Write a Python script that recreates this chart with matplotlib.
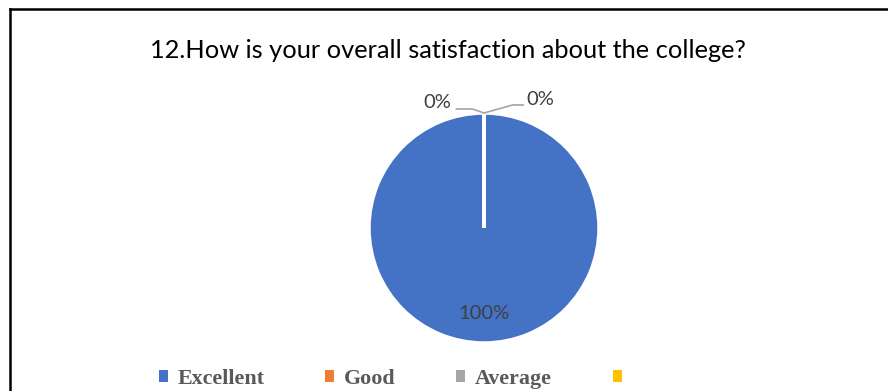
import matplotlib.pyplot as plt
from matplotlib.patches import Patch
from matplotlib.lines import Line2D

# survey answers
categories = ["Excellent", "Good", "Average", ""]
shares = [100, 0, 0, 0]
colors = ["#4472C4", "#ED7D31", "#A5A5A5", "#FFC000"]
title = "12.How is your overall satisfaction about the college?"

W, H = 888, 391
fig = plt.figure(figsize=(W / 100, H / 100), dpi=100)

# frame (left and top edges of the embedded chart box)
fig.add_artist(Line2D([9.5 / W, 9.5 / W], [0, 1 - 8.5 / H], color="black", lw=1.8,
                      transform=fig.transFigure))
fig.add_artist(Line2D([9.5 / W, 1], [1 - 8.5 / H, 1 - 8.5 / H], color="black", lw=1.8,
                      transform=fig.transFigure))

fig.text(448 / W, 1 - 50 / H, title, ha="center", va="center",
         fontsize=18.3, family="Lato", color="#000000")

# pie, centre (484, 228), radius 115 px
cx, cy, r = 484, 228, 115
ax = fig.add_axes([(cx - r) / W, (H - cy - r) / H, 2 * r / W, 2 * r / H])
wedges, _ = ax.pie(shares, colors=colors, startangle=90, counterclock=False,
                   radius=1, wedgeprops=dict(edgecolor="white", linewidth=2.5))
ax.set_xlim(-1, 1)
ax.set_ylim(-1, 1)
ax.set_aspect("equal")
ax.axis("off")

lab_col = "#404040"
# 100% label inside the big slice
ax.text(0, -0.74, f"{shares[0]}%", ha="center", va="center", fontsize=14.5,
        family="Lato", color=lab_col)

# zero slices: labels with leader lines
top = (0, 1.0)
ax.plot([top[0], -0.1, -0.24], [top[1], 1.035, 1.035], color="#A5A5A5", lw=1.2,
        clip_on=False)
ax.text(-0.285, 1.09, f"{shares[1]}%", ha="right", va="center", fontsize=14.5,
        family="Lato", color=lab_col)
ax.plot([top[0], 0.25, 0.34], [top[1], 1.07, 1.07], color="#A5A5A5", lw=1.2,
        clip_on=False)
ax.text(0.37, 1.12, f"{shares[2]}%", ha="left", va="center", fontsize=14.5,
        family="Lato", color=lab_col)

handles = [Patch(facecolor=c, edgecolor="none") for c in colors]
fig.legend(handles, categories, loc="center", bbox_to_anchor=(0.445, 1 - 379 / H),
           ncol=4, frameon=False, handlelength=0.42, handleheight=0.42,
           handletextpad=0.45, columnspacing=2.75,
           prop=dict(family="Liberation Serif", weight="bold", size=15.8),
           labelcolor="#595959")

fig.savefig("out.png", dpi=100)
